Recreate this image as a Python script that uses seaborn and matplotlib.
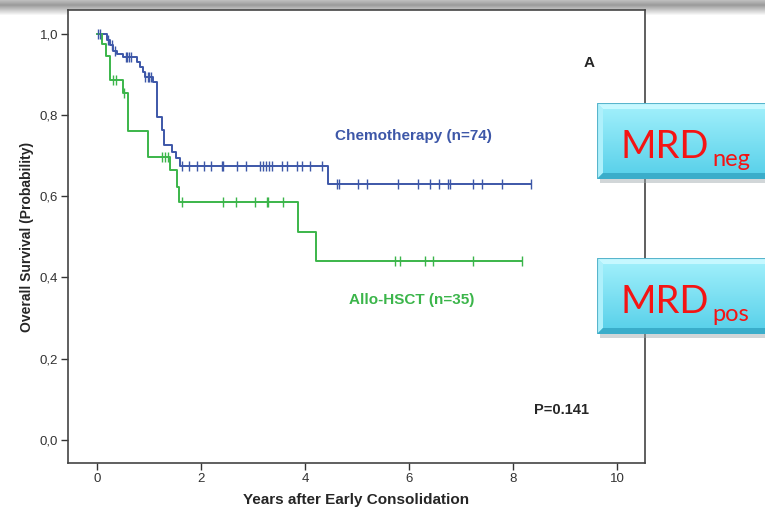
import numpy as np
import pandas as pd
import matplotlib
matplotlib.use("Agg")
import matplotlib.pyplot as plt
from matplotlib.patches import Polygon, Rectangle
from matplotlib.colors import LinearSegmentedColormap
import seaborn as sns

# Kaplan-Meier step data (time in years, survival probability after each step)
chemo_times = [0, 0.19, 0.25, 0.31, 0.39, 0.49, 0.76, 0.83, 0.88, 0.92, 1.07,
               1.15, 1.24, 1.29, 1.45, 1.52, 1.59, 4.44]
chemo_surv = [1.0, 0.986, 0.973, 0.959, 0.950, 0.942, 0.930, 0.918, 0.906,
              0.894, 0.882, 0.796, 0.764, 0.727, 0.710, 0.694, 0.674, 0.630]
chemo_censor = [0.02, 0.06, 0.21, 0.28, 0.35, 0.55, 0.58, 0.62, 0.66, 0.93,
                0.97, 1.00, 1.03, 1.64, 1.76, 1.92, 2.05, 2.20, 2.40, 2.43,
                2.69, 2.87, 3.14, 3.19, 3.25, 3.30, 3.37, 3.56, 3.65, 3.85,
                3.94, 4.10, 4.33, 4.62, 4.65, 5.02, 5.19, 5.79, 6.17, 6.40,
                6.58, 6.75, 6.79, 7.23, 7.40, 7.79, 8.35]

allo_times = [0, 0.09, 0.17, 0.25, 0.49, 0.59, 0.97, 1.40, 1.53, 1.58, 3.86, 4.22]
allo_surv = [1.0, 0.975, 0.946, 0.886, 0.854, 0.760, 0.696, 0.665, 0.624,
             0.587, 0.513, 0.441]
allo_censor = [0.31, 0.37, 0.52, 1.25, 1.31, 1.37, 1.63, 2.42, 2.67, 3.04,
               3.26, 3.29, 3.57, 5.74, 5.83, 6.31, 6.47, 7.24, 8.17]

groups = ["Chemotherapy (n=74)", "Allo-HSCT (n=35)"]
colors = ["#3d57a8", "#3bb54a"]
x_ticks = [0, 2, 4, 6, 8, 10]
y_ticks = [0.0, 0.2, 0.4, 0.6, 0.8, 1.0]
y_tick_labels = ["0,0", "0,2", "0,4", "0,6", "0,8", "1,0"]

sns.set_style("white")
plt.rcParams["font.family"] = ["Liberation Sans", "DejaVu Sans"]

W, H = 765, 509
fig = plt.figure(figsize=(W / 100, H / 100), dpi=100)

# soft grey band across the top edge
band = fig.add_axes([0, 1 - 16 / H, 1, 16 / H], zorder=0)
grad = np.concatenate([np.linspace(0.74, 0.62, 5), np.linspace(0.62, 1.0, 11)])
band.imshow(grad[:, None], cmap="gray", vmin=0, vmax=1, aspect="auto",
            extent=[0, 1, 0, 1])
band.set_axis_off()

ax = fig.add_axes([68 / W, 46 / H, 577 / W, 453 / H], zorder=1)


def curve_frame(times, surv, censor):
    t = list(times) + [max(censor)]
    s = list(surv) + [surv[-1]]
    return t, s


def surv_at(times, surv, pts):
    idx = np.searchsorted(np.asarray(times), np.asarray(pts), side="right") - 1
    return np.asarray(surv)[idx]


rows = []
for g, (tt, ss, cc) in zip(groups, [(chemo_times, chemo_surv, chemo_censor),
                                     (allo_times, allo_surv, allo_censor)]):
    t, s = curve_frame(tt, ss, cc)
    rows.append(pd.DataFrame({"years": t, "survival": s, "group": g}))
df = pd.concat(rows, ignore_index=True)

sns.lineplot(data=df, x="years", y="survival", hue="group", palette=colors,
             drawstyle="steps-post", linewidth=1.4, legend=False, ax=ax,
             estimator=None, sort=False)

for (tt, ss, cc), col in zip([(chemo_times, chemo_surv, chemo_censor),
                              (allo_times, allo_surv, allo_censor)], colors):
    ax.plot(cc, surv_at(tt, ss, cc), linestyle="none", marker="|",
            markersize=7, markeredgewidth=1.0, color=col)

ax.set_xlim(-0.56, 10.54)
ax.set_ylim(-0.057, 1.059)
ax.set_xticks(x_ticks)
ax.set_xticklabels([str(v) for v in x_ticks])
ax.set_yticks(y_ticks)
ax.set_yticklabels(y_tick_labels)
ax.tick_params(axis="both", which="both", direction="out", length=5,
               width=1, color="#333333", labelsize=9.5, labelcolor="#333333",
               left=True, bottom=True, pad=2)
for sp in ax.spines.values():
    sp.set_visible(True)
    sp.set_color("#444444")
    sp.set_linewidth(1.2)

ax.set_xlabel("Years after Early Consolidation", fontsize=11,
              fontweight="bold", labelpad=6)
ax.set_ylabel("Overall Survival (Probability)", fontsize=10,
              fontweight="bold", labelpad=4)

ax.text(6.08, 0.749, groups[0], color=colors[0], fontsize=11,
        fontweight="bold", ha="center", va="center")
ax.text(6.06, 0.345, groups[1], color=colors[1], fontsize=11,
        fontweight="bold", ha="center", va="center")
ax.text(9.46, 0.929, "A", fontsize=11, fontweight="bold", ha="center",
        va="center")
ax.text(8.94, 0.074, "P=0.141", fontsize=10.5, fontweight="bold",
        ha="center", va="center")


def mrd_box(x0, y0, x1, y1, sub):
    """Bevelled cyan label box, given in pixel coordinates (top-left origin)."""
    w, h = x1 - x0, y1 - y0
    sh = fig.add_axes([(x0 + 3) / W, 1 - (y1 + 4) / H, w / W, h / H], zorder=2)
    sh.set_xlim(0, w)
    sh.set_ylim(0, h)
    sh.set_axis_off()
    sh.add_patch(Rectangle((0, 0), w, h, color="#9aa4aa", alpha=0.45, lw=0))
    bx = fig.add_axes([x0 / W, 1 - y1 / H, w / W, h / H], zorder=3)
    bx.set_xlim(0, w)
    bx.set_ylim(0, h)
    bx.set_axis_off()
    cmap = LinearSegmentedColormap.from_list("face", ["#55cfe9", "#a4f1fc"])
    bx.imshow(np.linspace(0, 1, 64)[:, None], cmap=cmap, aspect="auto",
              extent=[0, w, 0, h], origin="lower")
    b = 6
    bx.add_patch(Polygon([[0, h], [w, h], [w - b, h - b], [b, h - b]],
                         closed=True, color="#c6f8ff", lw=0))
    bx.add_patch(Polygon([[0, 0], [0, h], [b, h - b], [b, b]],
                         closed=True, color="#aef0fb", lw=0))
    bx.add_patch(Polygon([[0, 0], [w, 0], [w - b, b], [b, b]],
                         closed=True, color="#3aadca", lw=0))
    bx.add_patch(Rectangle((0, 0), w, h, fill=False, edgecolor="#58b5cc",
                           lw=0.8))
    bx.text(23, h * 0.27, "MRD", color="#f41414", fontsize=27.5,
            family="Lato", ha="left", va="baseline")
    bx.text(115, h * 0.17, sub, color="#f41414", fontsize=17,
            family="Lato", ha="left", va="baseline")


mrd_box(597, 103, 775, 179, "neg")
mrd_box(597, 258, 775, 334, "pos")

fig.savefig("out.png", dpi=100)
